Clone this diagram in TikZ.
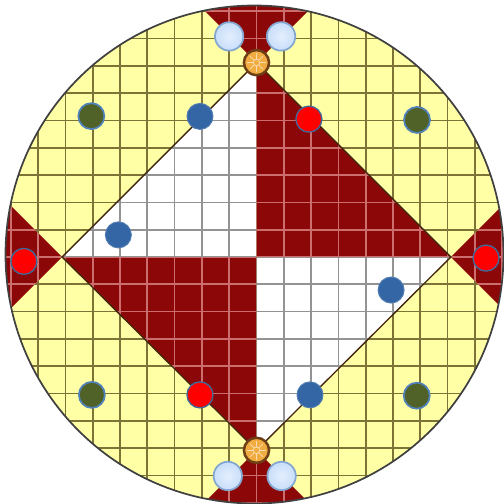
\documentclass[tikz,border=0pt]{standalone}
\definecolor{paleyellow}{RGB}{255,255,165}
\definecolor{wine}{RGB}{140,8,8}
\definecolor{olivegrid}{RGB}{125,115,55}
\definecolor{pinkgrid}{RGB}{205,110,110}
\definecolor{steelblue}{RGB}{52,102,165}
\definecolor{mossgreen}{RGB}{80,98,40}
\definecolor{ringblue}{RGB}{80,130,190}
\definecolor{iceblue}{RGB}{200,222,250}
\definecolor{amber}{RGB}{240,172,64}
\definecolor{rust}{RGB}{110,62,22}

\begin{document}
\begin{tikzpicture}[x=0.5cm, y=0.5cm,
    dot/.style={circle, inner sep=0pt, minimum size=0.476cm},
    greendot/.style={dot, fill=mossgreen, draw=ringblue, line width=0.9pt},
    bluedot/.style={dot, fill=steelblue, draw=steelblue!85!white, line width=0.5pt},
    reddot/.style={dot, fill=red, draw=ringblue!80!black, line width=0.7pt},
    icedot/.style={dot, minimum size=0.52cm, inner color=white!50!iceblue, outer color=iceblue, draw=ringblue!70!white, line width=0.9pt},
    orangedot/.style={dot, minimum size=0.46cm, fill=amber, draw=rust, line width=1.3pt},
    gridline/.style={step=1, line width=0.9pt}]
    \useasboundingbox (-9.395,-9.011) rectangle (9.066,9.414);
    \coordinate (C) at (-0.073,0.092);
    \def\rr{9.12}
    \coordinate (O) at (0,0);
    \coordinate (T) at (0,7.12);
    \coordinate (R) at (7.12,0);
    \coordinate (B) at (0,-7.08);
    \coordinate (L) at (-7.12,0);
    \def\whitepath{(O) -- (L) -- (T) -- cycle (O) -- (R) -- (B) -- cycle}
    \def\redpath{(O) -- (T) -- (R) -- cycle (O) -- (B) -- (L) -- cycle
        (T) -- ++(-4,4) -- ++(8,0) -- cycle (B) -- ++(-4,-4) -- ++(8,0) -- cycle
        (L) -- ++(-4,4) -- ++(0,-8) -- cycle (R) -- ++(4,4) -- ++(0,-8) -- cycle}
    % disc and triangles
    \fill[paleyellow] (C) circle (\rr);
    \fill[white] \whitepath;
    \begin{scope}
        \clip (C) circle (\rr);
        \fill[wine] \redpath;
        \draw[gridline, olivegrid] (-10,-10) grid (10,10);
    \end{scope}
    \begin{scope}
        \clip \whitepath;
        \draw[gridline, gray!85] (-10,-10) grid (10,10);
    \end{scope}
    \begin{scope}
        \clip (C) circle (\rr);
        \clip \redpath;
        \draw[gridline, pinkgrid] (-10,-10) grid (10,10);
    \end{scope}
    \draw[line width=0.7pt, rust!60!black] (T) -- (R) -- (B) -- (L) -- cycle;
    \draw[line width=0.9pt, black!75] (C) circle (\rr);
    % dots
    \foreach \n/\x/\y in {i1/-1/8.08, i2/0.9/8.08, i3/-1.05/-8.02, i4/0.92/-8.02}
        \node[icedot] (\n) at (\x,\y) {};
    \node[orangedot] (o1) at (T) {};
    \node[orangedot] (o2) at (B) {};
    \foreach \d in {o1,o2} {
        \foreach \a in {0,45,...,315}
            \draw[amber!40!white, line width=0.4pt] (\d.center) ++(\a:0.12) -- ++(\a:0.22);
        \draw[amber!40!white, line width=0.4pt] (\d.center) circle (0.12);
    }
    \foreach \n/\x/\y in {r1/-8.52/-0.16, r2/8.41/-0.04, r3/1.92/5.05, r4/-2.07/-5.05}
        \node[reddot] (\n) at (\x,\y) {};
    \foreach \n/\x/\y in {b1/-2.07/5.15, b2/-5.06/0.81, b3/4.93/-1.21, b4/1.96/-5.05}
        \node[bluedot] (\n) at (\x,\y) {};
    \foreach \n/\x/\y in {g1/-6.05/5.16, g2/5.88/5.02, g3/5.87/-5.08, g4/-6.03/-5.05}
        \node[greendot] (\n) at (\x,\y) {};
\end{tikzpicture}
\end{document}
